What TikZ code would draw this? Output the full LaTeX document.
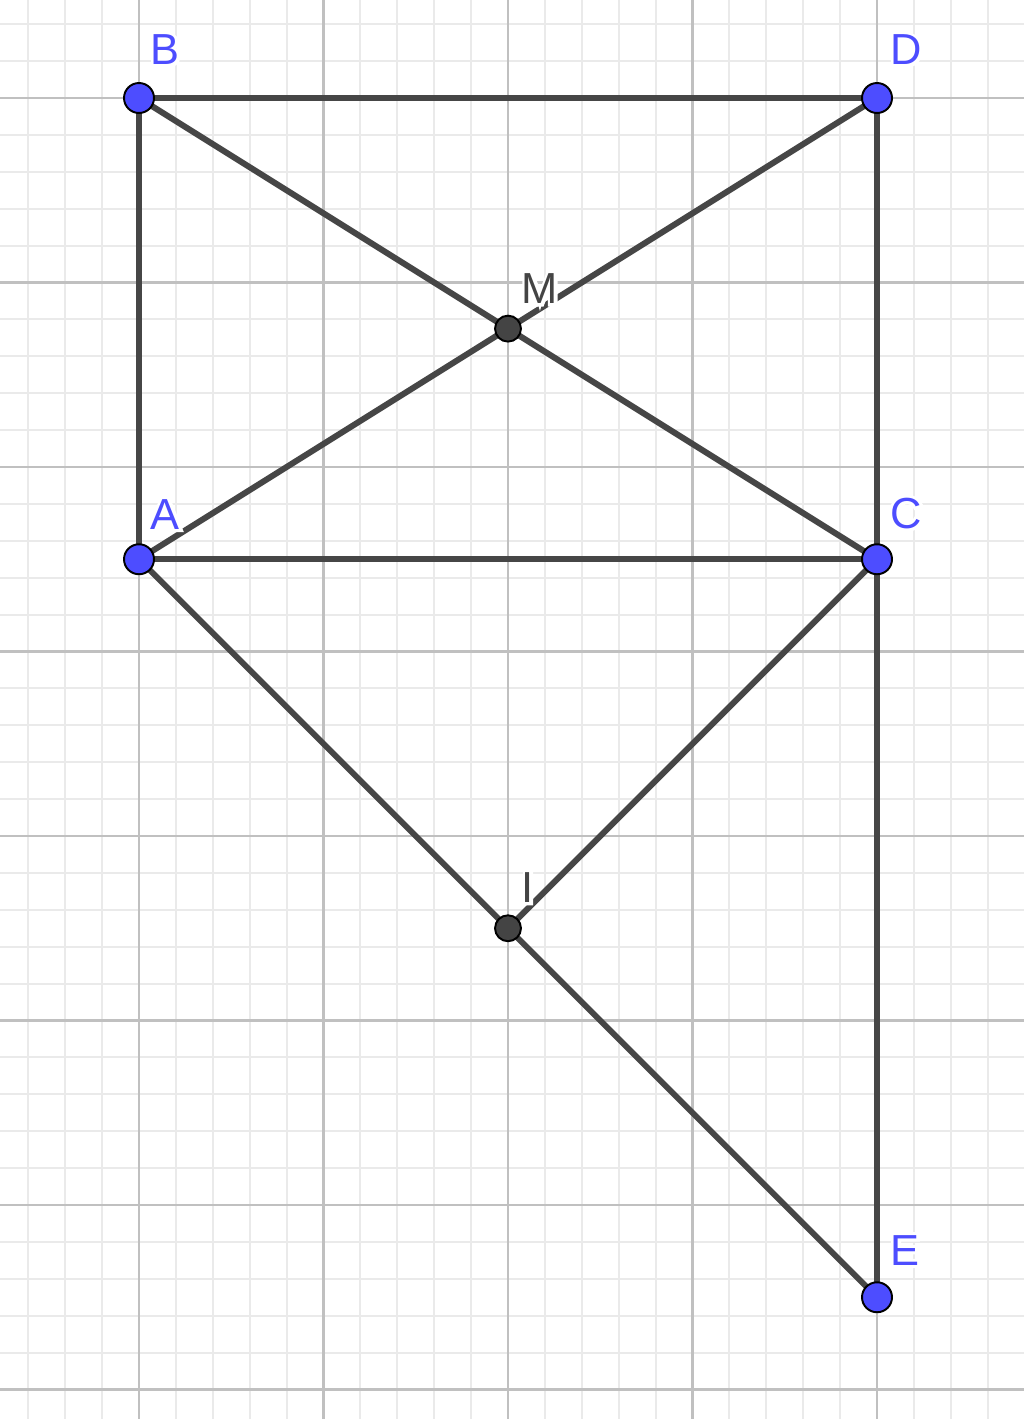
\documentclass[tikz,border=0pt]{standalone}
\usepackage{fontspec}
\setmainfont{Liberation Sans}
\newfontfamily\halofont[FakeBold=14]{Liberation Sans}
\usetikzlibrary{positioning}

\definecolor{ptblue}{RGB}{77,77,255}
\definecolor{ptdark}{RGB}{68,68,68}
\definecolor{segcol}{RGB}{70,70,70}
\definecolor{majorgrid}{RGB}{192,192,192}
\definecolor{minorgrid}{RGB}{234,234,234}

\tikzset{
  freept/.style={circle, draw=black, fill=ptblue, line width=0.6pt, inner sep=0pt, minimum size=9.25pt},
  deppt/.style={circle, draw=black, fill=ptdark, line width=0.6pt, inner sep=0pt, minimum size=8pt},
  seg/.style={draw=segcol, line width=1.85pt},
  lbl/.style={inner sep=0pt, font=\fontsize{13.4}{16}\selectfont}
}

% label text with a white halo behind it
\newcommand{\haloed}[1]{\ooalign{\hfil{\halofont\color{white}#1}\hfil\cr\hfil#1\hfil\cr}}

\begin{document}
\begin{tikzpicture}[x=2cm, y=2cm]

\useasboundingbox (-0.7534,-7.1599) rectangle (4.7967,0.5312);
\fill[white] (-0.7534,-7.1599) rectangle (4.7967,0.5312);

% grid
\draw[minorgrid, line width=0.6pt, step=0.2] (-0.7534,-7.1599) grid (4.7967,0.5312);
\draw[majorgrid, line width=0.7pt, step=1] (-0.7534,-7.1599) grid (4.7967,0.5312);

% points
\coordinate (B) at (0,0);
\coordinate (D) at (4,0);
\coordinate (A) at (0,-2.5);
\coordinate (C) at (4,-2.5);
\coordinate (M) at (2,-1.25);
\coordinate (I) at (2,-4.5);
\coordinate (E) at (4,-6.5);

% segments
\draw[seg] (B) -- (D);
\draw[seg] (B) -- (A);
\draw[seg] (D) -- (C);
\draw[seg] (C) -- (E);
\draw[seg] (A) -- (C);
\draw[seg] (B) -- (C);
\draw[seg] (A) -- (D);
\draw[seg] (A) -- (E);
\draw[seg] (C) -- (I);

% labels
\node[lbl, text=ptblue] (lB) at ([shift={(0.141,0.260)}]B) {\haloed{B}};
\node[lbl, text=ptblue] (lD) at ([shift={(0.157,0.260)}]D) {\haloed{D}};
\node[lbl, text=ptblue] (lA) at ([shift={(0.141,0.244)}]A) {\haloed{A}};
\node[lbl, text=ptblue] (lC) at ([shift={(0.157,0.249)}]C) {\haloed{C}};
\node[lbl, text=ptblue] (lE) at ([shift={(0.152,0.255)}]E) {\haloed{E}};
\node[lbl, text=ptdark] (lM) at ([shift={(0.173,0.217)}]M) {\haloed{M}};
\node[lbl, text=ptdark] (lI) at ([shift={(0.108,0.222)}]I) {\haloed{I}};

\node[freept] (pB) at (B) {};
\node[freept] (pD) at (D) {};
\node[freept] (pA) at (A) {};
\node[freept] (pC) at (C) {};
\node[freept] (pE) at (E) {};
\node[deppt] (pM) at (M) {};
\node[deppt] (pI) at (I) {};

\end{tikzpicture}
\end{document}
